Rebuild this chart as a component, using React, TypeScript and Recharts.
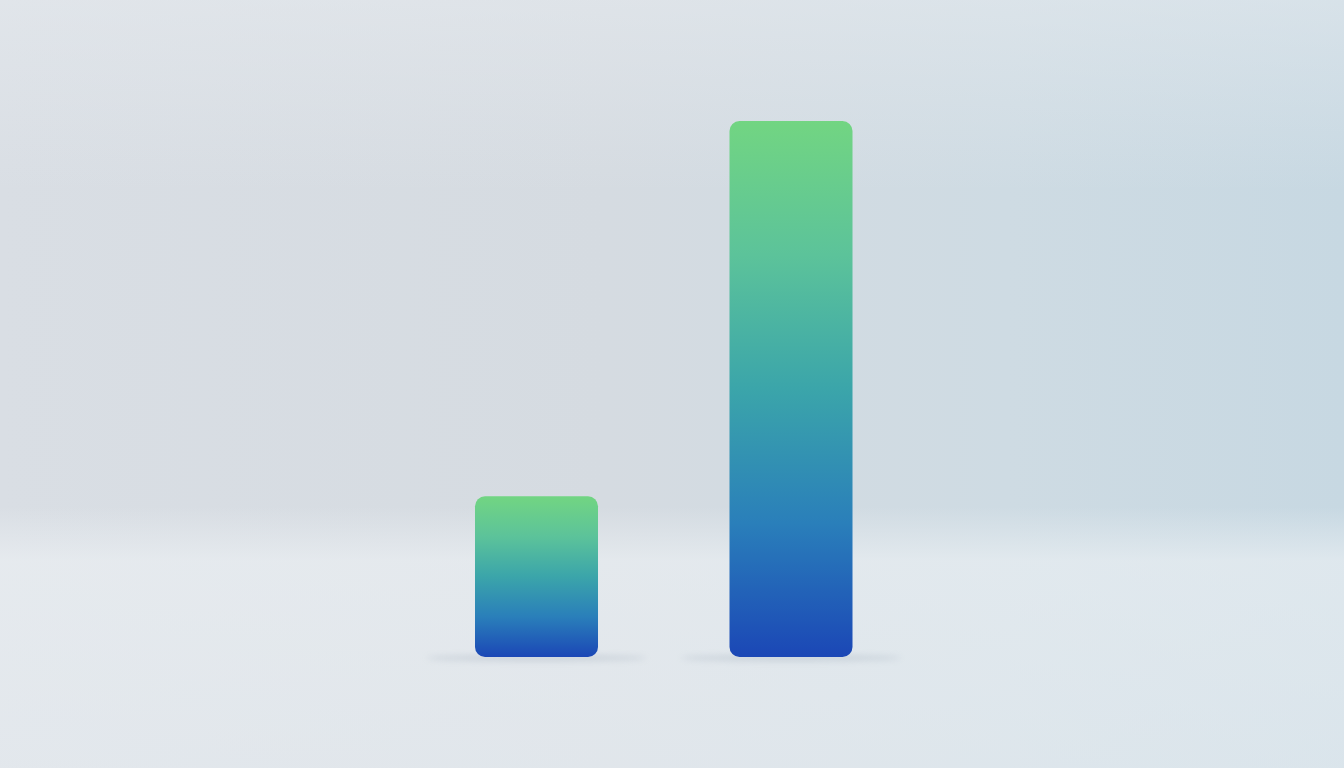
import React from "react";
import { BarChart, Bar, XAxis, YAxis, Rectangle } from "recharts";

const categories = ["A", "B"];
const values = [30, 100];

const data = categories.map((c, i) => ({ name: c, value: values[i] }));

const ShadowBar = (props: any) => {
  const { x, y, width, height } = props;
  return (
    <g>
      <ellipse
        cx={x + width / 2}
        cy={y + height + 1}
        rx={width * 0.9}
        ry={3}
        fill="#8f9ead"
        opacity={0.3}
        filter="url(#blurShadow)"
      />
      <Rectangle {...props} radius={10} fill="url(#barGrad)" />
    </g>
  );
};

export default function App() {
  return (
    <div
      style={{
        position: "fixed",
        left: 0,
        top: 0,
        width: 1344,
        height: 768,
        overflow: "hidden",
        background:
          "linear-gradient(180deg, rgba(232,236,240,0.5) 0%, rgba(255,255,255,0) 25%, rgba(255,255,255,0) 66%, rgba(238,242,245,0.6) 73%, rgba(234,239,243,0.55) 100%), linear-gradient(90deg, #d9dee4 0%, #d5dbe1 45%, #cedbe3 75%, #c7d8e2 100%)",
      }}
    >
      <BarChart
        width={1344}
        height={768}
        data={data}
        margin={{ top: 121, bottom: 111, left: 409, right: 426 }}
        barSize={123}
      >
        <defs>
          <linearGradient id="barGrad" x1="0" y1="0" x2="0" y2="1">
            <stop offset="0%" stopColor="#72d582" />
            <stop offset="25%" stopColor="#5cc39a" />
            <stop offset="50%" stopColor="#3ba5aa" />
            <stop offset="75%" stopColor="#2a7fba" />
            <stop offset="100%" stopColor="#1b47b6" />
          </linearGradient>
          <filter id="blurShadow" x="-50%" y="-300%" width="200%" height="700%">
            <feGaussianBlur stdDeviation="3" />
          </filter>
        </defs>
        <XAxis dataKey="name" hide />
        <YAxis hide domain={[0, 100]} />
        <Bar dataKey="value" isAnimationActive={false} shape={ShadowBar} />
      </BarChart>
    </div>
  );
}
